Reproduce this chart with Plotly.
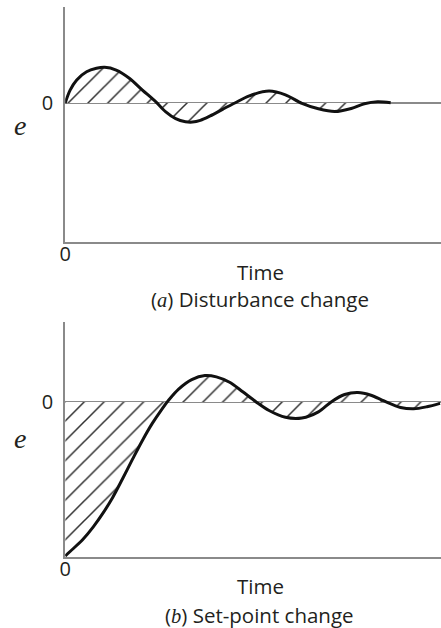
import plotly.graph_objects as go

# ---- data (arbitrary units) ----
time_a = [0, 0.5, 1.17, 2.17, 3.17, 4.0, 5.17, 6.5, 7.83, 9.17, 10.2, 11.2, 12.2, 12.9, 13.7,
          14.7, 16.0, 17.2, 18.67, 20.67, 22.33, 24.0, 25.67, 27.33, 29.0, 30.33, 31.67, 33.0]
err_a = [0, 0.38, 0.68, 0.92, 1.02, 1.05, 0.97, 0.73, 0.38, 0.04, -0.26, -0.46, -0.55, -0.56,
         -0.51, -0.38, -0.18, 0.0, 0.21, 0.35, 0.24, -0.01, -0.17, -0.25, -0.16, -0.02, 0.04, 0.01]

time_b = [0, 0.83, 1.83, 2.83, 3.83, 4.83, 5.83, 6.83, 7.83, 8.83, 9.83, 10.5, 11.5, 12.83,
          14.17, 15.33, 16.67, 18.0, 19.33, 20.67, 22.33, 24.0, 25.67, 27.0, 28.33, 29.67,
          31.0, 32.33, 34.0, 35.33, 36.67, 38.0]
err_b = [-4.53, -4.31, -4.03, -3.68, -3.27, -2.80, -2.25, -1.68, -1.13, -0.63, -0.20, 0.06,
         0.38, 0.66, 0.78, 0.74, 0.58, 0.30, 0.01, -0.25, -0.45, -0.47, -0.29, 0.01, 0.22,
         0.28, 0.20, 0.03, -0.16, -0.20, -0.14, -0.04]

x_range = [0, 38.1]
y_range_a = [-4.088, 2.824]
y_range_b = [-4.559, 2.353]

x_label = "Time"
y_label = "e"
caption_a = "(<span style='font-family:Liberation Serif'><i>a</i></span>) Disturbance change"
caption_b = "(<span style='font-family:Liberation Serif'><i>b</i></span>) Set-point change"

W, H = 441, 628
AX = "#8a8a8a"
TXT = "#231f20"
SANS = "Open Sans"
SERIF = "Liberation Serif"

hatch = dict(shape="/", size=14, solidity=0.11, fgcolor="#333333", fgopacity=1,
             bgcolor="white", fillmode="replace")

fig = go.Figure()
fig.add_trace(go.Scatter(
    x=time_a, y=err_a, mode="lines",
    line=dict(color="#111111", width=3, shape="spline", smoothing=0.9),
    fill="tozeroy", fillcolor="white", fillpattern=hatch, xaxis="x", yaxis="y",
    showlegend=False, hoverinfo="skip"))
fig.add_trace(go.Scatter(
    x=time_b, y=err_b, mode="lines",
    line=dict(color="#111111", width=3, shape="spline", smoothing=0.9),
    fill="tozeroy", fillcolor="white", fillpattern=hatch, xaxis="x2", yaxis="y2",
    showlegend=False, hoverinfo="skip"))


def px_x(p):
    return p / W


def px_y(p):
    return 1 - p / H


xa = dict(range=x_range, showgrid=False, zeroline=False, showline=True, linecolor=AX, linewidth=2,
          tickvals=[0], ticktext=["0"], ticks="", ticklabelstandoff=-7,
          tickfont=dict(family=SANS, size=20, color=TXT), domain=[px_x(60), 1.0])
ya = dict(showgrid=False, zeroline=True, zerolinecolor=AX, zerolinewidth=2, showline=True,
          linecolor=AX, linewidth=2, tickvals=[0], ticktext=["0"], ticks="",
          ticklabelstandoff=6, tickfont=dict(family=SANS, size=20, color=TXT))

fig.update_layout(
    width=W, height=H, margin=dict(l=0, r=0, t=0, b=0),
    paper_bgcolor="white", plot_bgcolor="white",
    xaxis=dict(**xa, anchor="y"),
    yaxis=dict(**ya, range=y_range_a, domain=[px_y(242), px_y(7)], anchor="x"),
    xaxis2=dict(**xa, anchor="y2"),
    yaxis2=dict(**ya, range=y_range_b, domain=[px_y(557), px_y(322)], anchor="x2"),
)

ann = []
for (ty, cy, ey, cap) in [(272, 299, 125, caption_a), (586, 615, 438, caption_b)]:
    ann.append(dict(x=px_x(258), y=px_y(ty), xref="paper", yref="paper", text=x_label, showarrow=False,
                    font=dict(family=SANS, size=20.5, color=TXT), xanchor="center", yanchor="middle",
                    borderpad=0))
    ann.append(dict(x=px_x(257), y=px_y(cy), xref="paper", yref="paper", text=cap, showarrow=False,
                    font=dict(family=SANS, size=20.5, color=TXT), xanchor="center", yanchor="middle",
                    borderpad=0))
    ann.append(dict(x=px_x(14), y=px_y(ey), xref="paper", yref="paper", text="<i>" + y_label + "</i>",
                    showarrow=False, font=dict(family=SERIF, size=28, color=TXT),
                    xanchor="center", yanchor="middle"))
fig.update_layout(annotations=ann)

fig.write_html("out.html", config={"displayModeBar": False},
               post_script="document.body.style.margin='0';document.body.style.overflow='hidden';")
